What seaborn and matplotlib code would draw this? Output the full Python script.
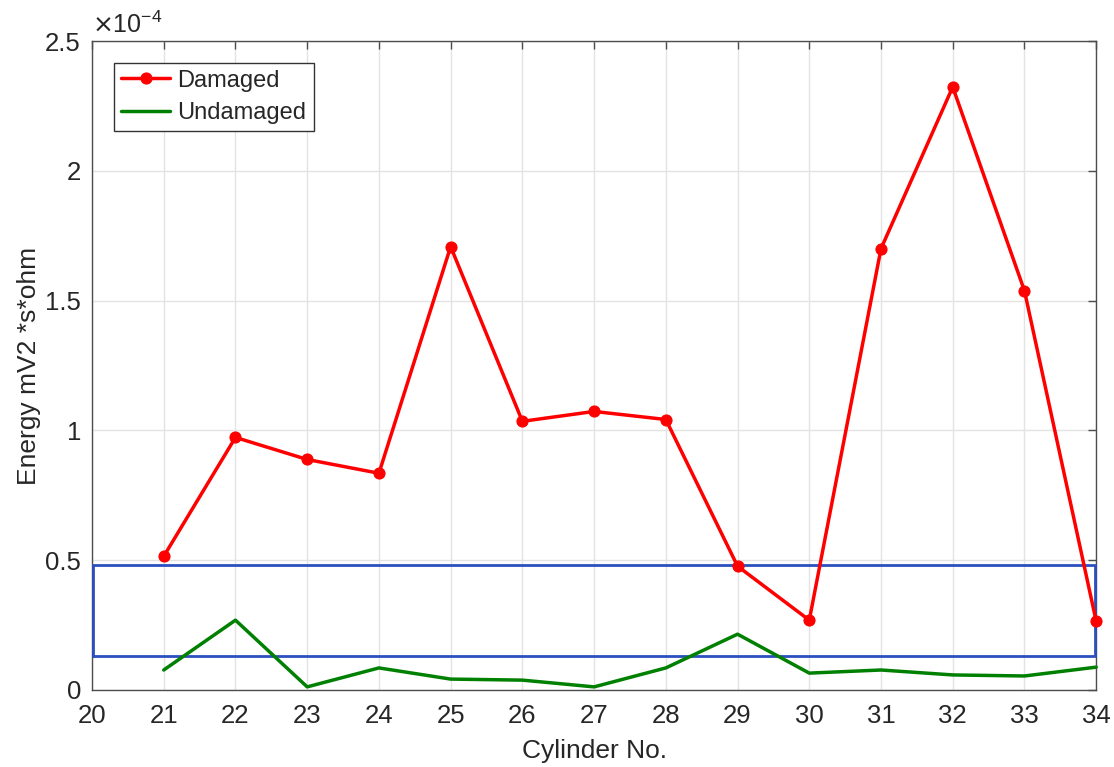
import numpy as np
import pandas as pd
import matplotlib
matplotlib.use('Agg')
import matplotlib.pyplot as plt
from matplotlib.ticker import FuncFormatter
import seaborn as sns

# values (units of 1e-4)
cylinders = [21, 22, 23, 24, 25, 26, 27, 28, 29, 30, 31, 32, 33, 34]
damaged = [0.515, 0.973, 0.888, 0.835, 1.708, 1.035, 1.073, 1.042, 0.477, 0.269, 1.700, 2.323, 1.538, 0.265]
undamaged = [0.077, 0.269, 0.012, 0.085, 0.042, 0.038, 0.012, 0.085, 0.215, 0.065, 0.077, 0.058, 0.054, 0.088]
box_x = [20.02, 33.985, 33.985, 20.02, 20.02]
box_y = [0.131, 0.131, 0.482, 0.482, 0.131]

sns.set_style('white')
plt.rcParams['font.family'] = ['Liberation Sans', 'DejaVu Sans']

df = pd.DataFrame({'Cylinder': cylinders, 'Damaged': damaged, 'Undamaged': undamaged})

fig = plt.figure(figsize=(11.14, 7.67), dpi=100)
ax = fig.add_axes([0.0826, 0.1004, 0.9014, 0.8461])

sns.lineplot(data=df, x='Cylinder', y='Damaged', ax=ax, color='#ff0000', lw=2.5,
             marker='o', markersize=8, markeredgecolor='#ff0000', label='Damaged',
             zorder=4, clip_on=False)
sns.lineplot(data=df, x='Cylinder', y='Undamaged', ax=ax, color='#008000', lw=2.5,
             label='Undamaged', zorder=4, clip_on=False)
ax.plot(box_x, box_y, color='#2b4fbf', lw=2, zorder=3, clip_on=False)

ax.set_xlim(20, 34)
ax.set_ylim(0, 2.5)
ax.set_xticks(range(20, 35))
ax.set_yticks([0, 0.5, 1, 1.5, 2, 2.5])
ax.yaxis.set_major_formatter(FuncFormatter(lambda v, p: f'{v:g}'))
ax.grid(True, color='#e3e3e3', lw=1)
ax.set_axisbelow(True)
for s in ax.spines.values():
    s.set_color('#4d4d4d')
    s.set_linewidth(1)
ax.tick_params(direction='in', top=True, right=True, length=6, width=1, color='#4d4d4d',
               labelsize=18.5, labelcolor='#262626')
ax.tick_params(axis='x', pad=10)
ax.tick_params(axis='y', pad=8)

ax.set_xlabel('Cylinder No.', fontsize=19, color='#262626', labelpad=8)
ax.set_ylabel('Energy mV2 *s*ohm', fontsize=19, color='#262626', labelpad=3)
ax.text(0.0, 1.004, r'$\times\mathregular{10^{-4}}$', transform=ax.transAxes, fontsize=18,
        color='#262626', ha='left', va='bottom')

leg = ax.legend(loc='upper left', bbox_to_anchor=(0.017, 0.974), fontsize=17, fancybox=False,
                framealpha=1, edgecolor='#333333', handlelength=2.1, borderpad=0.3,
                labelspacing=0.45, handletextpad=0.3, borderaxespad=0.2)
leg.get_frame().set_linewidth(1)

fig.savefig('out.png', dpi=100)
